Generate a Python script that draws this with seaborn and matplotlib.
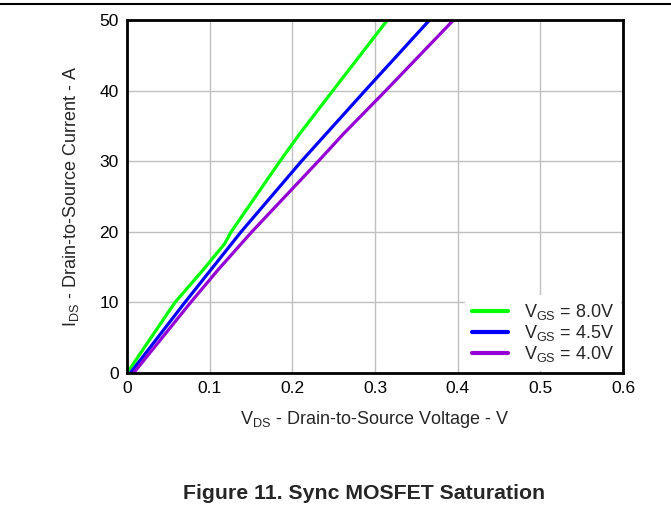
import numpy as np
import pandas as pd
import matplotlib
matplotlib.use('Agg')
import matplotlib.pyplot as plt
from matplotlib.lines import Line2D
import seaborn as sns

# (V_DS in V, I_DS in A)
vds_8v0 = [0.0, 0.058, 0.092, 0.118, 0.126, 0.185, 0.209, 0.249, 0.315]
ids_8v0 = [0.0, 10.0, 14.6, 18.3, 20.0, 30.0, 33.9, 40.0, 50.0]

vds_4v5 = [0.004, 0.070, 0.138, 0.211, 0.288, 0.366]
ids_4v5 = [0.0, 10.0, 20.0, 30.0, 40.0, 50.0]

vds_4v0 = [0.008, 0.077, 0.110, 0.151, 0.233, 0.262, 0.313, 0.395]
ids_4v0 = [0.0, 10.0, 14.6, 20.0, 30.2, 33.9, 40.0, 50.0]

labels = [r'V$_{\mathrm{GS}}$ = 8.0V', r'V$_{\mathrm{GS}}$ = 4.5V', r'V$_{\mathrm{GS}}$ = 4.0V']
colors = ['#00FF00', '#0000FF', '#9400D3']

x_ticks = [0, 0.1, 0.2, 0.3, 0.4, 0.5, 0.6]
x_ticklabels = ['0', '0.1', '0.2', '0.3', '0.4', '0.5', '0.6']
y_ticks = [0, 10, 20, 30, 40, 50]

df = pd.concat([
    pd.DataFrame({'VDS': vds_8v0, 'IDS': ids_8v0, 'Curve': labels[0]}),
    pd.DataFrame({'VDS': vds_4v5, 'IDS': ids_4v5, 'Curve': labels[1]}),
    pd.DataFrame({'VDS': vds_4v0, 'IDS': ids_4v0, 'Curve': labels[2]}),
], ignore_index=True)

sns.set_style('white')
plt.rcParams['font.family'] = ['Liberation Sans', 'DejaVu Sans']
plt.rcParams['mathtext.fontset'] = 'custom'
plt.rcParams['mathtext.rm'] = 'Liberation Sans'

fig = plt.figure(figsize=(6.71, 5.12), dpi=100)
ax = fig.add_axes([0.1893, 0.2715, 0.7392, 0.6894])

sns.lineplot(data=df, x='VDS', y='IDS', hue='Curve', palette=colors,
             hue_order=labels, sort=False, estimator=None, linewidth=2.3, ax=ax)

ax.set_xlim(0, 0.6)
ax.set_ylim(0, 50)
ax.set_xticks(x_ticks)
ax.set_xticklabels(x_ticklabels)
ax.set_yticks(y_ticks)
ax.grid(True, color='#c0c0c0', linewidth=1.0)
ax.set_axisbelow(True)
ax.tick_params(length=0, labelsize=12.5, pad=6, colors='black')
for s in ax.spines.values():
    s.set_color('black')
    s.set_linewidth(2.0)

ax.set_xlabel(r'V$_{\mathrm{DS}}$ - Drain-to-Source Voltage - V', fontsize=13, labelpad=9)
ax.set_ylabel(r'I$_{\mathrm{DS}}$ - Drain-to-Source Current - A', fontsize=13, labelpad=13)

leg = ax.legend(loc='lower right', frameon=True, fancybox=False, fontsize=13,
                handlelength=2.0, borderaxespad=0.1, labelspacing=0.05,
                handletextpad=0.85, borderpad=0.4)
leg.get_frame().set_edgecolor('none')
leg.get_frame().set_facecolor('white')
leg.get_frame().set_alpha(1.0)
for h in leg.get_lines():
    h.set_linewidth(3.0)

fig.text(0.5425, 0.037, 'Figure 11. Sync MOSFET Saturation', ha='center', va='center',
         fontsize=15.3, fontweight='bold')
fig.add_artist(Line2D([0, 1], [0.992, 0.992], transform=fig.transFigure,
                      color='black', linewidth=1.5))

fig.savefig('out.png', dpi=100)
plt.close(fig)
